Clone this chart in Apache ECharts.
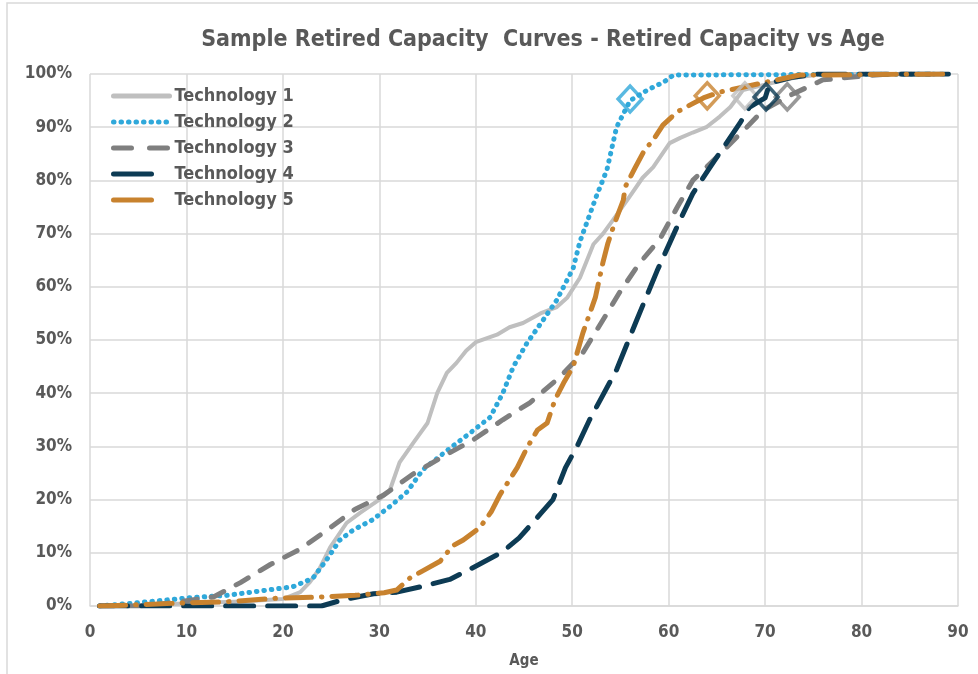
<!DOCTYPE html>
<html>
<head>
<meta charset="utf-8">
<script src="https://cdn.jsdelivr.net/npm/echarts@6/dist/echarts.min.js"></script>
<style>
  html, body { margin: 0; padding: 0; background: #fff; }
  #chart { width: 978px; height: 674px; }
</style>
</head>
<body>
<div id="chart"></div>
<script>
// [age, % retired]
const tech1 = [[1,0],[5,0],[10,0.5],[15,0.8],[20,1.3],[21.8,2.6],[22.8,4.5],[23.8,7],[24.9,11],[26.6,15.6],[28,17.5],[30,20],[31.1,21.8],[32.1,27],[33.5,30.6],[35,34.4],[36,40],[37,43.8],[38,45.7],[39,48],[40,49.6],[42.2,51],[43.5,52.4],[44.9,53.2],[46.7,55],[48.4,56.2],[49.5,58],[50.8,61.7],[52.2,68],[53.2,70],[54.2,72.5],[55.7,76.3],[57.3,80.5],[58.4,82.5],[60.1,87],[61.2,88],[62.5,89],[63.9,90],[65.3,92],[66.4,93.8],[67.7,97],[70,98],[73,99.3],[76,100],[89,100]];
const tech2 = [[1,0],[4.9,0.6],[10,1.5],[14.2,2],[18.4,3],[21,3.6],[23.1,5.2],[24.5,8.6],[25.9,12.4],[27.3,14.3],[29.3,16.2],[31.1,18.7],[32.9,21.5],[34.5,25.6],[37,29.2],[39.4,32.5],[41.5,35.5],[42.8,40],[43.9,45],[45.3,49.4],[47,53.8],[48.4,57.5],[50.1,63.5],[50.8,68.5],[51.8,73.5],[52.5,77],[53.6,82],[54.6,90],[56,95],[57.8,97],[59.5,98.5],[60.5,99.8],[89,100]];
const tech3 = [[1,0],[5,0],[8,0.5],[10,1],[12.8,1.7],[15.6,4.4],[18.7,7.8],[21.8,10.7],[24.6,14.3],[27.5,18.2],[30.4,20.8],[33.5,24.8],[36.5,28],[39.7,31.2],[42.8,35],[45.6,38.2],[48.7,43],[51.1,47.6],[53.2,53.8],[55,59.2],[57,64.5],[59.1,69],[60.9,75],[62.5,80],[65,84.4],[68.1,90],[69.8,93.2],[72.6,96],[76,98.9],[80,99.6],[83,100],[89,100]];
const tech4 = [[1,0],[5,0],[10,0],[15,0],[20,0],[24,0],[26.3,1.2],[29.4,2.3],[31.8,2.6],[34.7,3.8],[37.3,5],[39.7,7.2],[42.7,10.1],[44.5,12.8],[46.7,17.3],[48,20],[49.3,26],[50.5,30],[51.8,35],[52.9,38.7],[54.6,44.4],[56.7,53.8],[58.8,63],[61.2,72.6],[62.5,77.5],[64.3,82.5],[67.4,90.8],[68.4,93.8],[70,95.5],[70.5,98.3],[72.9,99.4],[75.4,100],[89,100]];
const tech5 = [[1,0],[4.5,0.2],[8.6,0.5],[14.2,0.8],[19.7,1.5],[23.9,1.7],[27.5,2],[30.5,2.5],[31.8,3],[33.2,5.3],[34.5,6.6],[36.3,8.4],[37.6,11.3],[38.7,12.4],[40.4,14.7],[41.6,17.7],[42.5,20.9],[44.3,26],[45.3,29.7],[46.4,33.1],[47.4,34.4],[48.2,38.7],[49.1,41.9],[50.1,45],[51.1,51.3],[52.4,58],[53.2,64.7],[53.7,68.2],[54.4,72],[55.3,76.3],[55.5,78.8],[56.5,82.3],[57.5,85.7],[58.4,87.6],[59.4,90.4],[60.9,92.9],[63.6,95.5],[65.3,96.6],[70.2,98.5],[73.6,99.8],[89,100]];

// diamond markers (age at ~95%)
const marker1 = [[67.9, 95.9]];
const marker2 = [[56, 95.3]];
const marker3 = [[72.3, 95.7]];
const marker4 = [[70.1, 95.7]];
const marker5 = [[64, 95.9]];

const names = ['Technology 1', 'Technology 2', 'Technology 3', 'Technology 4', 'Technology 5'];
const colors = ['#BFBFBF', '#2FA8DA', '#7F7F7F', '#0D3B54', '#C8822E'];
const dashes = ['solid', [0.5, 7], [14, 14], [28, 14], [26, 10, 0.5, 10]];
const legendDashes = ['solid', [0.5, 7], [18, 18], [38, 30], [38, 30]];

const font = '"DejaVu Sans Condensed", "Liberation Sans Narrow", sans-serif';
const textColor = '#595959';

function line(i, data) {
  return {
    name: names[i],
    type: 'line',
    data: data,
    symbol: 'none',
    lineStyle: { color: colors[i], width: i === 0 ? 4 : 5, type: dashes[i], cap: 'round', join: 'round' },
    itemStyle: { color: colors[i] },
    z: 3
  };
}

function diamond(data, color) {
  return {
    type: 'scatter',
    data: data,
    symbol: 'diamond',
    symbolSize: [24, 26],
    itemStyle: { color: 'rgba(0,0,0,0)', borderColor: color, borderWidth: 3.5 },
    z: 4
  };
}

const chart = echarts.init(document.getElementById('chart'));
chart.setOption({
  animation: false,
  textStyle: { fontFamily: font },
  title: {
    text: 'Sample Retired Capacity  Curves - Retired Capacity vs Age',
    left: 538,
    textAlign: 'center',
    top: 24,
    textStyle: { fontFamily: font, fontSize: 23, fontWeight: 'bold', color: textColor }
  },
  graphic: [{
    type: 'rect',
    shape: { x: 7, y: 3, width: 990, height: 690 },
    style: { fill: 'none', stroke: '#D9D9D9', lineWidth: 1.5 },
    silent: true
  }],
  legend: {
    orient: 'vertical',
    left: 106,
    top: 82,
    itemWidth: 56,
    itemHeight: 5,
    itemGap: 8,
    data: names.map((n, i) => ({
      name: n,
      lineStyle: { width: 5, type: legendDashes[i], cap: 'round', color: colors[i] }
    })),
    itemStyle: { opacity: 0 },
    textStyle: { fontFamily: font, fontSize: 18, fontWeight: 'bold', color: textColor }
  },
  grid: { left: 90, right: 20, top: 74, bottom: 68 },
  xAxis: {
    type: 'value',
    min: 0,
    max: 90,
    interval: 10,
    name: 'Age',
    nameLocation: 'middle',
    nameGap: 48,
    nameTextStyle: { fontFamily: font, fontSize: 15, fontWeight: 'bold', color: textColor },
    axisLine: { show: true, lineStyle: { color: '#D9D9D9', width: 1.5 } },
    axisTick: { show: false },
    axisLabel: { fontFamily: font, fontSize: 17, fontWeight: 'bold', color: textColor, margin: 18 },
    splitLine: { show: true, lineStyle: { color: '#D9D9D9', width: 1.5 } }
  },
  yAxis: {
    type: 'value',
    min: 0,
    max: 100,
    interval: 10,
    axisLine: { show: false },
    axisTick: { show: false },
    axisLabel: { formatter: '{value}%', fontFamily: font, fontSize: 17, fontWeight: 'bold', color: textColor, margin: 18 },
    splitLine: { show: true, lineStyle: { color: '#D9D9D9', width: 1.5 } }
  },
  series: [
    line(0, tech1),
    line(1, tech2),
    line(2, tech3),
    line(3, tech4),
    line(4, tech5),
    diamond(marker1, colors[0]),
    diamond(marker2, colors[1]),
    diamond(marker3, colors[2]),
    diamond(marker4, colors[3]),
    diamond(marker5, colors[4])
  ]
});
</script>
</body>
</html>
